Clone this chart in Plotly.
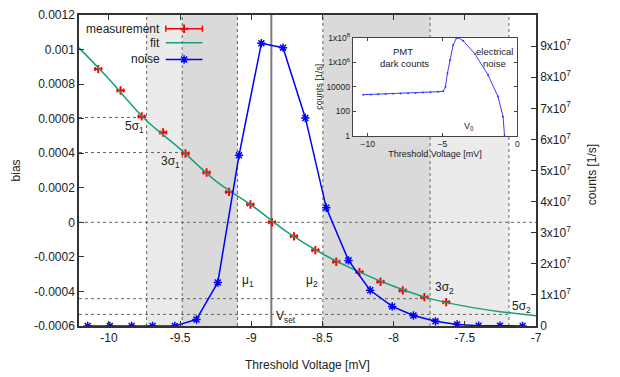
import plotly.graph_objects as go

# measured bias vs threshold voltage
meas_x = [-10.075, -9.918, -9.77, -9.619, -9.462, -9.314, -9.156, -9.006, -8.854,
          -8.70, -8.55, -8.403, -8.24, -8.092, -7.936, -7.784, -7.631]
meas_bias = [0.000887, 0.000763, 0.000613, 0.00052, 0.000398, 0.000288, 0.000176,
             0.000103, 0.0, -0.000081, -0.000161, -0.000228, -0.000288, -0.000344,
             -0.000394, -0.000433, -0.000462]
meas_err = 0.022

# fit curve
fit_x = [-10.21, -10.0, -9.75, -9.5, -9.25, -9.0, -8.75, -8.5, -8.25, -8.0, -7.75, -7.5, -7.25, -7.0]
fit_bias = [0.00101, 0.00083, 0.0006, 0.000425, 0.00024, 0.0001, -0.000055, -0.000182,
            -0.000284, -0.00037, -0.00044, -0.000485, -0.000517, -0.00054]

# noise counts [1/s]
noise_x = [-10.149, -9.993, -9.84, -9.693, -9.537, -9.385, -9.235, -9.086, -8.929, -8.777,
           -8.62, -8.473, -8.317, -8.165, -8.01, -7.861, -7.706, -7.554, -7.403, -7.253, -7.094]
noise_counts = [0, 0, 0, 0, 0, 2.1e6, 1.4e7, 5.49e7, 9.09e7, 8.95e7, 6.69e7, 3.8e7, 2.11e7,
                1.15e7, 6.3e6, 3.4e6, 1.5e6, 5e5, 1e5, 1e5, 0]

# inset: full threshold scan (log counts)
scan_x = [-10.3, -9.8, -9.3, -8.8, -8.3, -7.8, -7.3, -6.8, -6.3, -5.8, -5.3, -4.95, -4.8, -4.67,
          -4.51, -4.29, -4.07, -3.91, -3.62, -2.84, -1.95, -1.29, -0.95, -0.85]
scan_counts = [2300, 2400, 2500, 2600, 2700, 2900, 3000, 3200, 3400, 3700, 4000, 4300, 1.0e4,
               1.26e5, 1.45e6, 2.5e7, 8.9e7, 1.0e8, 5.6e7, 5.0e6, 9.1e4, 1600, 37, 1]

# statistics of the two peaks
mu1, mu2 = -9.097, -8.497
sig3_1, sig5_1 = -9.485, -9.735
sig3_2, sig5_2 = -7.744, -7.19
v_set = -8.859
bias_5s1, bias_3s1 = 0.000607, 0.000404
bias_3s2, bias_5s2 = -0.000442, -0.000533
v0 = -3.9
inset_cut = -5

XR = [-10.21, -7.0]
LIGHT = "#ebebeb"
DARK = "#dadada"
TXT = "#222222"
FONT = "Liberation Sans, Arial, sans-serif"
RED, GREEN, BLUE = "red", "#1a9e77", "blue"

fig = go.Figure()

fig.add_trace(go.Scatter(x=meas_x, y=meas_bias, mode="markers", name="measurement",
                         marker=dict(symbol="cross-thin-open", size=6, color=RED,
                                     line=dict(width=2, color=RED)),
                         error_x=dict(type="constant", value=meas_err, color=RED,
                                      thickness=1.5, width=2)))
fig.add_trace(go.Scatter(x=fit_x, y=fit_bias, mode="lines", name="fit",
                         line=dict(color=GREEN, width=1.5, shape="spline")))
fig.add_trace(go.Scatter(x=noise_x, y=noise_counts, mode="lines+markers", name="noise",
                         yaxis="y2", line=dict(color=BLUE, width=1.5),
                         marker=dict(symbol="asterisk-open", size=7, color=BLUE,
                                     line=dict(width=1.5, color=BLUE))))

# inset
fig.add_trace(go.Scatter(x=scan_x, y=scan_counts, mode="lines+markers", xaxis="x3", yaxis="y3",
                         line=dict(color="#3a3aff", width=1), marker=dict(size=2, color="#3a3aff")))

# legend keys on a helper axis
fig.add_trace(go.Scatter(x=[0.19, 0.27, None, 0.19, 0.19, None, 0.27, 0.27],
                         y=[0.956, 0.956, None, 0.946, 0.966, None, 0.946, 0.966],
                         mode="lines", xaxis="x4", yaxis="y4", line=dict(color=RED, width=1.5)))
fig.add_trace(go.Scatter(x=[0.23], y=[0.956], mode="markers", xaxis="x4", yaxis="y4",
                         marker=dict(symbol="cross-thin-open", size=6, color=RED,
                                     line=dict(width=2, color=RED))))
fig.add_trace(go.Scatter(x=[0.19, 0.27], y=[0.911, 0.911], mode="lines", xaxis="x4", yaxis="y4",
                         line=dict(color=GREEN, width=1.5)))
fig.add_trace(go.Scatter(x=[0.19, 0.27], y=[0.857, 0.857], mode="lines", xaxis="x4", yaxis="y4",
                         line=dict(color=BLUE, width=1.5)))
fig.add_trace(go.Scatter(x=[0.23], y=[0.857], mode="markers", xaxis="x4", yaxis="y4",
                         marker=dict(symbol="asterisk-open", size=7, color=BLUE,
                                     line=dict(width=1.5, color=BLUE))))
for label_txt, yy in [("measurement", 0.956), ("fit", 0.911), ("noise", 0.857)]:
    fig.add_annotation(x=0.182, y=yy, xref="x4", yref="y4", text=label_txt, showarrow=False,
                       xanchor="right", font=dict(size=12, color=TXT, family=FONT))

# shaded sigma bands
for x0, x1, c in [(sig5_1, sig3_1, LIGHT), (sig3_1, mu1, DARK), (mu2, sig3_2, DARK),
                  (sig3_2, sig5_2, LIGHT)]:
    fig.add_shape(type="rect", x0=x0, x1=x1, y0=0, y1=1, xref="x", yref="y domain",
                  fillcolor=c, line_width=0, layer="below")

dot = dict(color="#666666", width=1, dash="dot")
for xv in [sig5_1, sig3_1, mu1, mu2, sig3_2, sig5_2]:
    fig.add_shape(type="line", x0=xv, x1=xv, y0=0, y1=1, xref="x", yref="y domain",
                  line=dot, layer="below")
fig.add_shape(type="line", x0=XR[0], x1=XR[1], y0=0, y1=0, xref="x", yref="y", line=dot, layer="below")
for xv, yv in [(sig5_1, bias_5s1), (sig3_1, bias_3s1), (sig3_2, bias_3s2), (sig5_2, bias_5s2)]:
    fig.add_shape(type="line", x0=XR[0], x1=xv, y0=yv, y1=yv, xref="x", yref="y", line=dot, layer="below")
fig.add_shape(type="line", x0=v_set, x1=v_set, y0=0, y1=1, xref="x", yref="y domain",
              line=dict(color="#7a7a7a", width=2), layer="below")

# inset backgrounds
fig.add_shape(type="rect", x0=0, x1=1, y0=0, y1=1, xref="x3 domain", yref="y3 domain",
              fillcolor="white", line_width=0, layer="below")
fig.add_shape(type="rect", x0=-11, x1=inset_cut, y0=0, y1=1, xref="x3", yref="y3 domain",
              fillcolor="#a9a9a9", line_width=0, layer="below")
fig.add_shape(type="line", x0=inset_cut, x1=inset_cut, y0=0, y1=1, xref="x3", yref="y3 domain",
              line=dict(color="#333333", width=1, dash="dot"), layer="below")
fig.add_shape(type="line", x0=v0, x1=v0, y0=0, y1=1, xref="x3", yref="y3 domain",
              line=dict(color="#555555", width=1.5), layer="below")

# text labels
def label(x, y, text, size=12, xref="x", yref="y", **kw):
    fig.add_annotation(x=x, y=y, xref=xref, yref=yref, text=text, showarrow=False,
                       font=dict(size=size, color=TXT, family=FONT), **kw)

label(sig5_1 - 0.005, 0.00055, "5σ<sub>1</sub>", xanchor="right")
label(sig3_1 - 0.005, 0.00035, "3σ<sub>1</sub>", xanchor="right")
label(mu1 + 0.02, -0.00034, "μ<sub>1</sub>", xanchor="left")
label(mu2 - 0.02, -0.00034, "μ<sub>2</sub>", xanchor="right")
label(v_set + 0.02, -0.00055, "V<sub>set</sub>", xanchor="left")
label(sig3_2 + 0.02, -0.00038, "3σ<sub>2</sub>", xanchor="left")
label(sig5_2 + 0.01, -0.00049, "5σ<sub>2</sub>", xanchor="left")
# log axis: annotation y is given in decades
label(-7.63, 6.9, "PMT", size=9.5, xref="x3", yref="y3", borderpad=0)
label(-7.57, 5.9, "dark counts", size=9.5, xref="x3", yref="y3", borderpad=0)
label(-1.51, 6.9, "electrical", size=9.5, xref="x3", yref="y3", borderpad=0)
label(-1.54, 5.9, "noise", size=9.5, xref="x3", yref="y3", borderpad=0)
label(v0 + 0.2, 0.75, "V<sub>0</sub>", size=9, xref="x3", yref="y3", xanchor="left")

# main axis titles, placed in paper space so margins stay fixed
label(0.501, -0.125, "Threshold Voltage [mV]", xref="paper", yref="paper",
      xanchor="center", yanchor="middle")
label(-0.138, 0.5, "bias", xref="paper", yref="paper", textangle=-90,
      xanchor="center", yanchor="middle")
label(1.1225, 0.488, "counts [1/s]", xref="paper", yref="paper", textangle=-90,
      xanchor="center", yanchor="middle")

ax_line = dict(showline=True, linecolor="#333333", linewidth=1.5, automargin=False,
               ticks="inside", ticklen=5, tickcolor="#333333", showgrid=False, zeroline=False)
inset_ax = dict(tickfont=dict(size=8.5), showline=True, linecolor="#444444", linewidth=1,
                automargin=False, mirror="ticks", ticks="inside", ticklen=3,
                showgrid=False, zeroline=False)

# page body adds an 8px offset, so the figure is 8px smaller than the window
fig.update_layout(
    width=612, height=369,
    margin=dict(l=71, r=84, t=7, b=51),
    plot_bgcolor="white", paper_bgcolor="white",
    font=dict(family=FONT, size=12, color=TXT),
    showlegend=False,
    xaxis=dict(range=XR, tickvals=[-10, -9.5, -9, -8.5, -8, -7.5, -7],
               ticktext=["-10", "-9.5", "-9", "-8.5", "-8", "-7.5", "-7"],
               mirror="ticks", **ax_line),
    yaxis=dict(range=[-0.0006, 0.0012], tickvals=[-0.0006, -0.0004, -0.0002, 0, 0.0002, 0.0004,
                                                  0.0006, 0.0008, 0.001, 0.0012],
               ticktext=["-0.0006", "-0.0004", "-0.0002", "0", "0.0002", "0.0004", "0.0006",
                         "0.0008", "0.001", "0.0012"], **ax_line),
    yaxis2=dict(range=[0, 1e8], overlaying="y", side="right",
                tickvals=[i * 1e7 for i in range(11)],
                ticktext=["0"] + ["%dx10<sup>7</sup>" % i for i in range(1, 10)] + ["1x10<sup>8</sup>"],
                **ax_line),
    xaxis3=dict(domain=[0.599, 0.959], anchor="y3", range=[-11, 0], tickvals=[-10, -5, 0],
                title=dict(text="Threshold Voltage [mV]", font=dict(size=9), standoff=2), **inset_ax),
    yaxis3=dict(domain=[0.611, 0.927], anchor="x3", type="log", range=[0, 8],
                tickvals=[1, 100, 1e4, 1e6, 1e8],
                ticktext=["1", "100", "10000", "1x10<sup>6</sup>", "1x10<sup>8</sup>"],
                title=dict(text="counts [1/s]", font=dict(size=9), standoff=2), **inset_ax),
    xaxis4=dict(domain=[0, 1], anchor="y4", range=[0, 1], visible=False, overlaying="x"),
    yaxis4=dict(domain=[0, 1], anchor="x4", range=[0, 1], visible=False, overlaying="y"),
)

fig.write_html("out.html")
